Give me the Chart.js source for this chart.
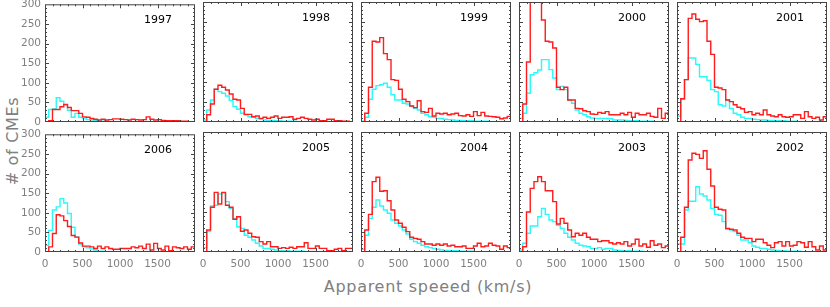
<!DOCTYPE html>
<html>
<head>
<meta charset="utf-8">
<script src="https://cdn.jsdelivr.net/npm/chart.js@4.4.1/dist/chart.umd.min.js"></script>
<style>
  body { margin: 0; background: #fff; }
  #wrap { position: relative; width: 830px; height: 307px; overflow: hidden; font-family: "DejaVu Sans", sans-serif; }
  #wrap canvas { position: absolute; }
  .ytitle { position: absolute; left: 12px; top: 141px; transform: translate(-50%, -50%) rotate(-90deg);
            color: #808080; font-size: 16px; letter-spacing: 0.7px; white-space: nowrap; }
  .xtitle { position: absolute; left: 428px; top: 286px; transform: translate(-50%, -50%);
            color: #808080; font-size: 16px; letter-spacing: 0.7px; white-space: nowrap; }
</style>
</head>
<body>
<div id="wrap">
  <div class="ytitle"># of CMEs</div>
  <div class="xtitle">Apparent speeed (km/s)</div>
</div>
<script>
// left edge of each 50 km/s bin
const speedBins = [0, 50, 100, 150, 200, 250, 300, 350, 400, 450, 500, 550, 600, 650, 700, 750, 800, 850, 900, 950,
  1000, 1050, 1100, 1150, 1200, 1250, 1300, 1350, 1400, 1450, 1500, 1550, 1600, 1650, 1700, 1750, 1800, 1850, 1900, 1950];
const speedMax = 2000;
const yTicks = [0, 50, 100, 150, 200, 250, 300];
const xTickLabels = [0, 500, 1000, 1500];

const red1997 = [0, 3, 32, 32, 39, 45, 37, 29, 29, 22, 13, 12, 9, 7, 5, 7, 5, 6, 8, 8, 7, 6, 5, 7, 6, 5, 6, 13, 7, 5, 6, 4, 3, 3, 3, 3, 2, 2, 1, 1];
const cyan1997 = [12, 32, 33, 62, 53, 43, 30, 12, 22, 12, 10, 6, 5, 3, 2, 2, 2, 1, 1, 1, 1, 1, 0, 0, 0, 0, 0, 0, 0, 0, 0, 0, 0, 0, 0, 0, 0, 0, 0, 0];
const red1998 = [0, 18, 45, 82, 92, 87, 80, 70, 57, 55, 34, 19, 19, 13, 15, 9, 12, 9, 12, 15, 9, 12, 12, 13, 7, 9, 12, 9, 7, 5, 7, 3, 3, 7, 7, 3, 3, 2, 2, 1];
const cyan1998 = [5, 30, 55, 82, 76, 72, 65, 54, 39, 32, 22, 18, 13, 12, 9, 7, 5, 4, 4, 3, 3, 2, 2, 2, 2, 1, 1, 1, 1, 1, 1, 1, 0, 0, 0, 0, 0, 0, 0, 0];
const red1999 = [0, 22, 87, 202, 200, 211, 171, 156, 106, 104, 82, 57, 51, 40, 36, 53, 26, 24, 34, 15, 22, 20, 22, 18, 20, 22, 16, 15, 18, 14, 26, 16, 24, 15, 14, 13, 12, 8, 10, 14];
const cyan1999 = [2, 12, 57, 82, 91, 93, 97, 87, 68, 55, 55, 47, 45, 40, 34, 30, 22, 18, 13, 12, 9, 9, 7, 6, 5, 4, 4, 3, 3, 3, 2, 2, 2, 2, 1, 1, 1, 1, 1, 1];
const red2000 = [0, 45, 150, 330, 340, 330, 255, 202, 200, 185, 87, 81, 87, 55, 55, 34, 33, 28, 26, 20, 19, 24, 22, 26, 18, 18, 18, 22, 18, 24, 12, 22, 18, 18, 22, 14, 12, 34, 9, 22];
const cyan2000 = [9, 22, 72, 118, 123, 130, 156, 156, 131, 110, 81, 89, 81, 55, 47, 30, 22, 18, 13, 10, 9, 9, 9, 9, 8, 5, 5, 5, 4, 3, 3, 3, 2, 2, 2, 2, 1, 1, 1, 1];
const red2001 = [0, 58, 106, 259, 270, 257, 251, 253, 202, 169, 87, 85, 81, 55, 51, 43, 37, 33, 24, 26, 18, 22, 18, 30, 18, 15, 13, 18, 13, 12, 13, 18, 18, 9, 26, 13, 9, 12, 5, 13];
const cyan2001 = [15, 57, 106, 160, 160, 144, 113, 113, 104, 81, 76, 43, 40, 55, 34, 22, 18, 12, 9, 9, 7, 6, 5, 5, 4, 4, 3, 3, 3, 2, 2, 2, 1, 1, 1, 1, 1, 1, 1, 1];
const red2006 = [0, 13, 47, 95, 92, 80, 65, 42, 38, 23, 15, 15, 13, 9, 15, 9, 13, 9, 7, 7, 9, 9, 9, 13, 11, 15, 9, 20, 5, 22, 9, 5, 15, 3, 13, 11, 9, 13, 7, 13];
const cyan2006 = [17, 55, 107, 115, 136, 125, 98, 63, 38, 20, 13, 11, 8, 5, 2, 2, 1, 1, 1, 0, 0, 0, 0, 0, 0, 0, 0, 0, 0, 0, 0, 0, 0, 0, 0, 0, 0, 0, 0, 0];
const red2005 = [0, 55, 112, 149, 120, 149, 117, 112, 82, 88, 52, 55, 47, 38, 37, 26, 20, 26, 13, 13, 9, 11, 9, 12, 9, 13, 13, 23, 9, 9, 15, 9, 9, 3, 3, 7, 9, 3, 9, 9];
const cyan2005 = [11, 51, 115, 117, 145, 148, 126, 109, 84, 63, 59, 42, 37, 30, 22, 15, 9, 9, 7, 5, 3, 3, 3, 2, 2, 2, 2, 1, 1, 1, 1, 1, 0, 0, 0, 0, 0, 0, 0, 0];
const red2004 = [0, 55, 94, 176, 187, 152, 153, 128, 105, 80, 72, 62, 51, 37, 34, 32, 26, 20, 20, 17, 20, 17, 20, 15, 17, 13, 13, 15, 9, 9, 15, 22, 13, 15, 22, 17, 15, 7, 15, 11];
const cyan2004 = [7, 42, 84, 112, 130, 115, 105, 97, 80, 72, 65, 55, 45, 32, 26, 22, 17, 13, 11, 9, 7, 5, 4, 3, 3, 3, 2, 2, 2, 2, 1, 1, 1, 1, 1, 1, 1, 1, 1, 1];
const red2003 = [0, 13, 100, 159, 176, 188, 176, 153, 153, 126, 70, 84, 72, 55, 38, 47, 42, 47, 37, 32, 32, 26, 28, 28, 23, 20, 23, 20, 26, 15, 20, 32, 15, 20, 12, 28, 17, 20, 11, 15];
const cyan2003 = [5, 22, 47, 65, 65, 88, 109, 94, 80, 76, 67, 59, 47, 37, 30, 22, 17, 15, 13, 9, 9, 11, 7, 9, 9, 5, 4, 3, 3, 3, 2, 2, 2, 1, 1, 1, 1, 1, 1, 1];
const red2002 = [0, 37, 112, 230, 247, 244, 234, 253, 207, 165, 112, 107, 105, 59, 57, 55, 47, 37, 34, 34, 26, 32, 32, 23, 17, 11, 23, 26, 15, 26, 15, 17, 26, 23, 12, 26, 13, 5, 15, 5];
const cyan2002 = [20, 20, 105, 127, 127, 163, 145, 140, 130, 109, 94, 92, 76, 57, 55, 51, 42, 30, 30, 23, 15, 12, 9, 9, 7, 5, 4, 3, 3, 2, 2, 2, 2, 1, 1, 1, 1, 1, 1, 1];

const panels = [
  ["1997", red1997, cyan1997], ["1998", red1998, cyan1998], ["1999", red1999, cyan1999],
  ["2000", red2000, cyan2000], ["2001", red2001, cyan2001],
  ["2006", red2006, cyan2006], ["2005", red2005, cyan2005], ["2004", red2004, cyan2004],
  ["2003", red2003, cyan2003], ["2002", red2002, cyan2002],
];

const RED = "rgb(255,28,28)";
const CYAN = "rgb(40,250,250)";
const frameLefts = [45, 203, 361, 519, 677];
const frameTops = [2, 132];
const PLOT_W = 150, PLOT_H = 120, PAD_L = 45, PAD_T = 8, PAD_R = 10, PAD_B = 30;

// histogram as a stepped line: one point per bin start plus the closing edge
function steps(values) {
  const pts = speedBins.map((s, i) => ({ x: s, y: values[i] }));
  pts.push({ x: speedMax, y: values[values.length - 1] });
  return pts;
}

// IDL-like box: frame plus inward ticks on all four sides, year in the corner
const framePlugin = {
  id: "frame",
  afterDraw(chart, args, opts) {
    const { ctx, chartArea: a, scales } = chart;
    const x = scales.x, y = scales.y;
    ctx.save();
    ctx.strokeStyle = "#444";
    ctx.lineWidth = 1;
    ctx.strokeRect(a.left + 0.5, a.top + 0.5, a.width - 1, a.height - 1);
    ctx.beginPath();
    for (let v = 10; v < 300; v += 10) {
      const py = Math.round(y.getPixelForValue(v)) + 0.5;
      const len = v % 50 === 0 ? 4 : 2;
      ctx.moveTo(a.left, py); ctx.lineTo(a.left + len, py);
      ctx.moveTo(a.right, py); ctx.lineTo(a.right - len, py);
    }
    for (let v = 100; v < 2000; v += 100) {
      const px = Math.round(x.getPixelForValue(v)) + 0.5;
      const len = v % 500 === 0 ? 4 : 2;
      ctx.moveTo(px, a.bottom); ctx.lineTo(px, a.bottom - len);
      ctx.moveTo(px, a.top); ctx.lineTo(px, a.top + len);
    }
    ctx.stroke();
    ctx.fillStyle = "#000";
    ctx.font = '11px "DejaVu Sans"';
    ctx.textAlign = "right";
    ctx.textBaseline = "middle";
    ctx.fillText(opts.year, a.right - 23, a.top + 16);
    ctx.restore();
  },
};

const wrap = document.getElementById("wrap");

panels.forEach(([year, red, cyan], k) => {
  const row = Math.floor(k / 5), col = k % 5;
  const canvas = document.createElement("canvas");
  canvas.width = PAD_L + PLOT_W + PAD_R;
  canvas.height = PAD_T + PLOT_H + PAD_B;
  canvas.style.left = (frameLefts[col] - PAD_L) + "px";
  canvas.style.top = (frameTops[row] - PAD_T) + "px";
  wrap.appendChild(canvas);

  new Chart(canvas, {
    type: "line",
    data: {
      datasets: [
        { data: steps(red), borderColor: RED, borderWidth: 1.4, stepped: true, pointRadius: 0, clip: 0 },
        { data: steps(cyan), borderColor: CYAN, borderWidth: 1.4, stepped: true, pointRadius: 0, clip: 0 },
      ],
    },
    options: {
      responsive: false,
      animation: false,
      devicePixelRatio: 1,
      layout: { padding: { left: 0, top: PAD_T, right: PAD_R, bottom: 0 } },
      plugins: { legend: { display: false }, tooltip: { enabled: false }, frame: { year } },
      scales: {
        x: {
          type: "linear",
          min: 0,
          max: speedMax,
          grid: { display: false, drawTicks: false },
          border: { display: false },
          afterFit: (s) => { s.height = PAD_B; },
          ticks: {
            display: row === 1,
            stepSize: 500,
            autoSkip: false,
            maxRotation: 0,
            padding: 6,
            color: "#808080",
            font: { family: "DejaVu Sans", size: 10.5 },
            callback: (v) => (xTickLabels.includes(v) ? String(v) : ""),
          },
        },
        y: {
          min: 0,
          max: yTicks[yTicks.length - 1],
          grid: { display: false, drawTicks: false },
          border: { display: false },
          afterFit: (s) => { s.width = PAD_L; },
          afterBuildTicks: (s) => { s.ticks = yTicks.map((v) => ({ value: v })); },
          ticks: {
            display: col === 0,
            padding: 4,
            color: "#808080",
            font: { family: "DejaVu Sans", size: 10.5 },
          },
        },
      },
    },
    plugins: [framePlugin],
  });
});
</script>
</body>
</html>
